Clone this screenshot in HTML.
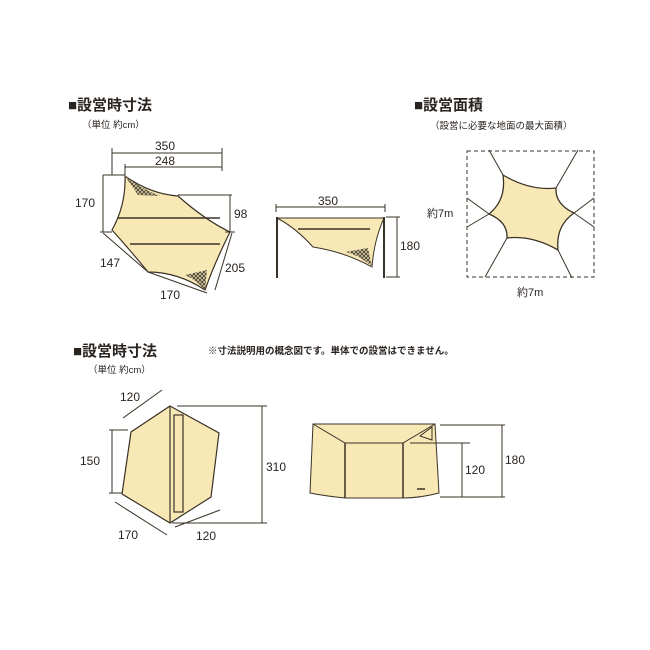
<!DOCTYPE html>
<html><head><meta charset="utf-8"><style>
html,body{margin:0;padding:0;background:#fff;}
svg{display:block;}
text{font-family:"Liberation Sans","Noto Sans CJK JP",sans-serif;fill:#2a2420;}
.t{font-size:15px;font-weight:bold;}
.s{font-size:9.5px;}
.n{font-size:12px;}
</style></head><body>
<svg width="650" height="650" viewBox="0 0 650 650" xmlns="http://www.w3.org/2000/svg">
<defs>
<pattern id="net" width="4" height="4" patternUnits="userSpaceOnUse">
<rect width="4" height="4" fill="#d8cfa8"/>
<path d="M0 0L4 4M4 0L0 4" stroke="#4a3f30" stroke-width="0.9"/>
</pattern>
</defs>
<g stroke="#3a3226" fill="none" stroke-width="1">

<!-- Top-left tarp -->
<path d="M125,176 Q150,194 178,196 Q205,220 230,232 Q215,262 205,290 Q178,272 148,272 Q130,250 112,230 Q126,205 125,176Z" fill="#f8e8b6" stroke-width="1.2"/>
<path d="M125,176 Q140,188 160,196 L138,195 Z" fill="url(#net)" stroke="none"/>
<path d="M205,290 L207,270 L185,275 Q196,280 205,290Z" fill="url(#net)" stroke="none"/>
<line x1="118" y1="218" x2="220" y2="218" stroke-width="1.5"/>
<line x1="130" y1="244" x2="220" y2="244" stroke-width="1.5"/>
<line x1="112" y1="153" x2="222" y2="153"/><line x1="112" y1="148" x2="112" y2="175"/>
<line x1="222" y1="148" x2="222" y2="171"/>
<line x1="125" y1="167" x2="222" y2="167"/><line x1="125" y1="164" x2="125" y2="175"/>
<line x1="103" y1="175" x2="103" y2="232"/><line x1="103" y1="175" x2="125" y2="175"/>
<line x1="100" y1="232" x2="112" y2="232"/>
<line x1="178" y1="195" x2="232" y2="195"/><line x1="230" y1="195" x2="230" y2="232"/>
<line x1="225" y1="232" x2="235" y2="232"/>
<line x1="103" y1="233" x2="148" y2="272"/><line x1="215" y1="290" x2="232" y2="233"/>
<line x1="148" y1="272" x2="207" y2="293"/>
</g>
<text class="t" x="68" y="110">■設営時寸法</text>
<text class="s" x="82" y="128">（単位 約cm）</text>
<text class="n" x="155" y="150">350</text>
<text class="n" x="155" y="165">248</text>
<text class="n" x="75" y="207">170</text>
<text class="n" x="234" y="218">98</text>
<text class="n" x="100" y="267">147</text>
<text class="n" x="225" y="272">205</text>
<text class="n" x="160" y="299">170</text>

<!-- Side view -->
<g stroke="#3a3226" fill="none" stroke-width="1">
<path d="M277,218 L384,218 Q374,240 372,267 Q345,252 313,247 Q296,228 277,218Z" fill="#f8e8b6"/>
<path d="M372,267 Q360,255 345,252 L368,248 Z" fill="url(#net)" stroke="none"/>
<line x1="298" y1="229" x2="370" y2="229" stroke-width="1.5"/>
<line x1="277" y1="217" x2="277" y2="278" stroke-width="2"/>
<line x1="384" y1="217" x2="384" y2="278" stroke-width="2"/>
<line x1="276" y1="207" x2="385" y2="207"/>
<line x1="276" y1="204" x2="276" y2="212"/><line x1="385" y1="204" x2="385" y2="212"/>
<line x1="397" y1="217" x2="397" y2="277"/>
<line x1="386" y1="217" x2="400" y2="217"/><line x1="386" y1="277" x2="400" y2="277"/>
</g>
<text class="n" x="318" y="205">350</text>
<text class="n" x="400" y="250">180</text>

<!-- Top right area -->
<text class="t" x="414" y="110">■設営面積</text>
<text class="s" x="430" y="129">（設営に必要な地面の最大面積）</text>
<g stroke="#3a3226" fill="none" stroke-width="1">
<rect x="467" y="151" width="127" height="126" stroke-dasharray="4,3"/>
<path d="M503,175 Q530,191 556,188 Q555,204 574,213 Q555.5,226 558,250 Q532,235 507,238 Q508,222 489,214 Q506.5,200 503,175Z" fill="#f8e8b6" stroke-width="1.3"/>
<line x1="503" y1="175" x2="489" y2="150"/>
<line x1="556" y1="188" x2="578" y2="150"/>
<line x1="574" y1="213" x2="594" y2="198"/><line x1="574" y1="213" x2="594" y2="227"/>
<line x1="489" y1="214" x2="467" y2="198"/><line x1="489" y1="214" x2="467" y2="227"/>
<line x1="507" y1="238" x2="485" y2="277"/>
<line x1="558" y1="250" x2="572" y2="278"/>
</g>
<text class="s" x="427" y="217" style="font-size:11px">約7m</text>
<text class="s" x="517" y="296" style="font-size:11px">約7m</text>

<!-- Bottom section -->
<text class="t" x="73" y="356">■設営時寸法</text>
<text class="s" x="208" y="354" style="font-weight:bold">※寸法説明用の概念図です。単体での設営はできません。</text>
<text class="s" x="88" y="373">（単位 約cm）</text>
<g stroke="#3a3226" fill="none" stroke-width="1">
<path d="M170,406 L219,433 L211,497 L170,523 L122,494 L131,432Z" fill="#f8e8b6" stroke-width="1.2"/>
<line x1="170" y1="406" x2="170" y2="523" stroke-width="1.2"/>
<rect x="174" y="415" width="9" height="97" stroke-width="1.2"/>
<line x1="123" y1="418" x2="162" y2="390"/>
<line x1="112" y1="430" x2="112" y2="493"/>
<line x1="109" y1="430" x2="128" y2="430"/><line x1="109" y1="493" x2="122" y2="493"/>
<line x1="177" y1="406" x2="267" y2="406"/><line x1="262" y1="406" x2="262" y2="523"/>
<line x1="172" y1="523" x2="267" y2="523"/>
<line x1="115" y1="502" x2="167" y2="535"/>
<line x1="175" y1="527" x2="220" y2="510"/>
</g>
<text class="n" x="120" y="401">120</text>
<text class="n" x="80" y="465">150</text>
<text class="n" x="266" y="471">310</text>
<text class="n" x="118" y="539">170</text>
<text class="n" x="196" y="540">120</text>

<g stroke="#3a3226" fill="none" stroke-width="1">
<path d="M313,424 L435,424 L439,493 Q420,498 403,498 L345,498 Q325,496 310,493Z" fill="#f8e8b6"/>
<polyline points="313,424 345,443 403,443 435,424"/>
<line x1="345" y1="443" x2="345" y2="498" stroke-width="1.5"/>
<line x1="403" y1="443" x2="403" y2="498" stroke-width="1.5"/>
<path d="M420,436 L432,427 L432,440Z"/>
<line x1="417" y1="489" x2="425" y2="489" stroke-width="1.5"/>
<line x1="410" y1="443" x2="470" y2="443"/>
<line x1="462" y1="443" x2="462" y2="497"/>
<line x1="440" y1="497" x2="470" y2="497"/>
<line x1="440" y1="425" x2="505" y2="425"/>
<line x1="502" y1="425" x2="502" y2="497"/>
<line x1="470" y1="497" x2="505" y2="497"/>
</g>
<text class="n" x="465" y="474">120</text>
<text class="n" x="505" y="464">180</text>
</svg>
</body></html>
